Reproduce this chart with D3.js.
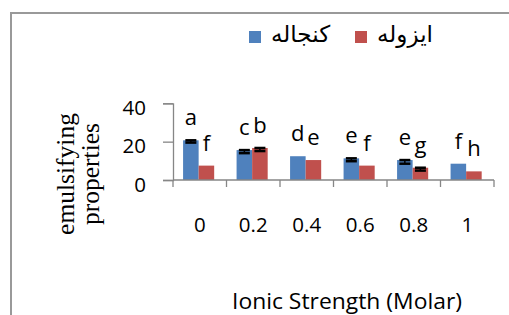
<!DOCTYPE html>
<html>
<head>
<meta charset="utf-8">
<script src="https://cdn.jsdelivr.net/npm/d3@7"></script>
<style>
    body { margin: 0; background: #fff; }
    svg { display: block; }
    .tick-label { font-family: 'Open Sans', sans-serif; font-size: 20.5px; fill: #000; }
    .letter { font-family: 'Open Sans', sans-serif; font-size: 22px; fill: #000; text-anchor: middle; }
    .legend-text { font-family: 'DejaVu Sans', sans-serif; font-size: 23px; fill: #000; }
    .y-title { font-family: 'Liberation Serif', serif; font-size: 25.5px; fill: #000; text-anchor: middle; }
    .x-title { font-family: 'Open Sans', sans-serif; font-size: 21px; fill: #000; text-anchor: middle; }
</style>
</head>
<body>
<div id="chart"></div>
<script>
const WIDTH = 509;
const HEIGHT = 315;

const categories = ['0', '0.2', '0.4', '0.6', '0.8', '1'];
const seriesNames = ['كنجاله', 'ايزوله'];
const mealValues = [20.7, 15.6, 12.4, 11.3, 10.4, 8.5];
const isolateValues = [7.5, 16.7, 10.4, 7.5, 6.4, 4.5];
const mealErrors = [1.2, 1.6, 0, 1.5, 1.9, 0];
const isolateErrors = [0, 1.6, 0, 0, 1.5, 0];
const mealLetters = ['a', 'c', 'd', 'e', 'e', 'f'];
const isolateLetters = ['f', 'b', 'e', 'f', 'g', 'h'];
const yTicks = [0, 20, 40];

const COLORS = ['#4f81bd', '#c0504d'];
const AXIS_COLOR = '#868686';

const series = [
    { name: seriesNames[0], values: mealValues, errors: mealErrors, letters: mealLetters },
    { name: seriesNames[1], values: isolateValues, errors: isolateErrors, letters: isolateLetters }
];

// one record per bar
const bars = [];
series.forEach((s, si) => {
    categories.forEach((c, ci) => {
        bars.push({ cat: c, si: si, value: s.values[ci], err: s.errors[ci], letter: s.letters[ci] });
    });
});

const svg = d3.select('#chart').append('svg')
    .attr('width', WIDTH)
    .attr('height', HEIGHT);

svg.append('rect')
    .attr('width', WIDTH).attr('height', HEIGHT)
    .attr('fill', '#fff');

// chart border (runs off the right and bottom of the picture)
svg.append('rect')
    .attr('x', 11).attr('y', 13)
    .attr('width', 600).attr('height', 400)
    .attr('fill', 'none')
    .attr('stroke', '#999')
    .attr('stroke-width', 2);

const x0 = d3.scaleBand().domain(categories).range([173, 494]).padding(0);
const x1 = d3.scaleBand().domain([0, 1]).range([0, x0.bandwidth()])
    .paddingInner(0).paddingOuter(0.72).align(0.45);
const y = d3.scaleLinear().domain([0, 40]).range([180, 103.3]);

const plot = svg.append('g');

plot.selectAll('rect.bar')
    .data(bars)
    .join('rect')
        .attr('class', 'bar')
        .attr('x', d => x0(d.cat) + x1(d.si))
        .attr('y', d => y(d.value))
        .attr('width', x1.bandwidth())
        .attr('height', d => y(0) - y(d.value))
        .attr('fill', d => COLORS[d.si]);

// minus error bars
const errs = plot.selectAll('g.err')
    .data(bars.filter(d => d.err > 0))
    .join('g')
        .attr('class', 'err')
        .attr('transform', d => 'translate(' + (x0(d.cat) + x1(d.si) + x1.bandwidth() / 2) + ',0)');

errs.append('line')
    .attr('y1', d => y(d.value)).attr('y2', d => y(d.value - d.err))
    .attr('stroke', '#000').attr('stroke-width', 1.5);
errs.selectAll('line.cap')
    .data(d => [d.value, d.value - d.err])
    .join('line')
        .attr('class', 'cap')
        .attr('x1', -5.5).attr('x2', 5.5)
        .attr('y1', v => y(v)).attr('y2', v => y(v))
        .attr('stroke', '#000').attr('stroke-width', 2.5);

// significance letters
plot.selectAll('text.letter')
    .data(bars)
    .join('text')
        .attr('class', 'letter')
        .attr('x', d => x0(d.cat) + x1(d.si) + x1.bandwidth() / 2)
        .attr('y', d => y(d.value) - 15)
        .text(d => d.letter);

// y axis
const yAxis = svg.append('g')
    .attr('transform', 'translate(173,0)')
    .call(d3.axisLeft(y).tickValues(yTicks).tickSize(10).tickPadding(17));
yAxis.selectAll('text')
    .attr('class', 'tick-label')
    .attr('dy', 11);
yAxis.attr('font-family', null).attr('font-size', null);
yAxis.selectAll('path, line').attr('stroke', AXIS_COLOR).attr('stroke-width', 1.3);

// x axis: line, ticks between categories, labels under the centres
const xAxis = svg.append('g').attr('transform', 'translate(0,180)');
xAxis.append('line')
    .attr('x1', x0.range()[0]).attr('x2', x0.range()[1])
    .attr('stroke', AXIS_COLOR).attr('stroke-width', 1.3);
xAxis.selectAll('line.tick')
    .data(categories.map(c => x0(c)).concat([x0.range()[1]]))
    .join('line')
        .attr('class', 'tick')
        .attr('x1', d => d).attr('x2', d => d)
        .attr('y1', 0).attr('y2', 7)
        .attr('stroke', AXIS_COLOR).attr('stroke-width', 1.3);
xAxis.selectAll('text')
    .data(categories)
    .join('text')
        .attr('class', 'tick-label')
        .attr('text-anchor', 'middle')
        .attr('x', d => x0(d) + x0.bandwidth() / 2)
        .attr('y', 52)
        .text(d => d);

// legend
const legendX = [249, 355];
const legend = svg.append('g');
legend.selectAll('rect')
    .data(seriesNames)
    .join('rect')
        .attr('x', (d, i) => legendX[i]).attr('y', 31)
        .attr('width', 12).attr('height', 12)
        .attr('fill', (d, i) => COLORS[i]);
legend.selectAll('text')
    .data(seriesNames)
    .join('text')
        .attr('class', 'legend-text')
        .attr('x', (d, i) => legendX[i] + 22).attr('y', 42)
        .text(d => d);

// axis titles
const yTitle = svg.append('g').attr('transform', 'translate(73.5,174) rotate(-90)');
yTitle.append('text').attr('class', 'y-title').attr('y', 0).text('emulsifying');
yTitle.append('text').attr('class', 'y-title').attr('y', 25).text('properties');

svg.append('text')
    .attr('class', 'x-title')
    .attr('x', 347).attr('y', 309)
    .attr('textLength', 230)
    .attr('lengthAdjust', 'spacingAndGlyphs')
    .text('Ionic Strength (Molar)');
</script>
</body>
</html>
